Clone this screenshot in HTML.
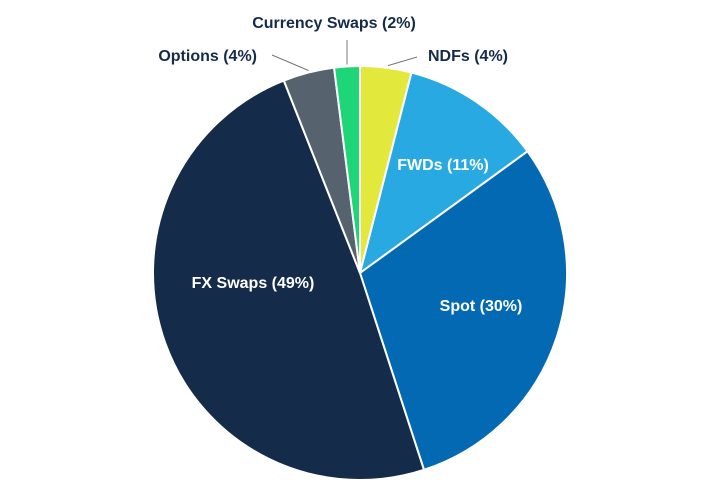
<!DOCTYPE html>
<html><head><meta charset="utf-8"><style>
html,body{margin:0;padding:0;background:#fff;}
svg{display:block;font-family:"Liberation Sans",sans-serif;font-weight:bold;}
</style></head><body>
<svg id="chart" width="720" height="500"></svg>
<script>
const categories=["NDFs","FWDs","Spot","FX Swaps","Options","Currency Swaps"];
const values=[4,11,30,49,4,2];
const labels=["NDFs (4%)","FWDs (11%)","Spot (30%)","FX Swaps (49%)","Options (4%)","Currency Swaps (2%)"];
const colors=["#e3e83c","#29a9e1","#0469b3","#142b4a","#56636f","#1ed677"];
const cx=360,cy=273,r=207;
const svg=document.getElementById('chart');
const NS="http://www.w3.org/2000/svg";
const total=values.reduce((a,b)=>a+b,0);
function pt(a,rr){return [cx+rr*Math.sin(a),cy-rr*Math.cos(a)];}
let a0=0;
const mids=[];
values.forEach((v,i)=>{
  const a1=a0+v/total*2*Math.PI;
  const p0=pt(a0,r),p1=pt(a1,r);
  const large=(a1-a0)>Math.PI?1:0;
  const path=document.createElementNS(NS,'path');
  path.setAttribute('d',`M${cx},${cy}L${p0[0]},${p0[1]}A${r},${r} 0 ${large} 1 ${p1[0]},${p1[1]}Z`);
  path.setAttribute('fill',colors[i]);
  path.setAttribute('stroke','#fff');
  path.setAttribute('stroke-width','2');
  
  
  svg.appendChild(path);
  mids.push((a0+a1)/2);
  a0=a1;
});
function addText(x,y,t,fill,anchor,name){
  const e=document.createElementNS(NS,'text');
  e.setAttribute('x',x);e.setAttribute('y',y);
  e.setAttribute('fill',fill);e.setAttribute('text-anchor',anchor);
  e.setAttribute('font-size','16');
  e.textContent=t;
  
  
  svg.appendChild(e);
}
function addLine(x1,y1,x2,y2,name){
  const l=document.createElementNS(NS,'line');
  l.setAttribute('x1',x1);l.setAttribute('y1',y1);l.setAttribute('x2',x2);l.setAttribute('y2',y2);
  l.setAttribute('stroke','#777');l.setAttribute('stroke-width','1');
  
  
  svg.appendChild(l);
}
const inner=[[1,83,-103],[2,121,38],[3,-107,15]];
inner.forEach(([i,dx,dy])=>{
  addText(cx+dx,cy+dy,labels[i],'#fff','middle','label-'+categories[i].toLowerCase().replace(/\s+/g,'-'));
});
const pN=pt(mids[0],r);
addLine(pN[0]+2,pN[1]-2,417,57,'leader-ndfs');
addText(428,61,labels[0],'#142b4a','start','label-ndfs');
const pO=pt(mids[4],r);
addLine(pO[0],pO[1]-2,272,55,'leader-options');
addText(257,61,labels[4],'#142b4a','end','label-options');
const pC=pt(mids[5],r);
addLine(pC[0],pC[1]-2,pC[0],40,'leader-currency-swaps');
addText(334,28,labels[5],'#142b4a','middle','label-currency-swaps');
</script>
</body></html>
